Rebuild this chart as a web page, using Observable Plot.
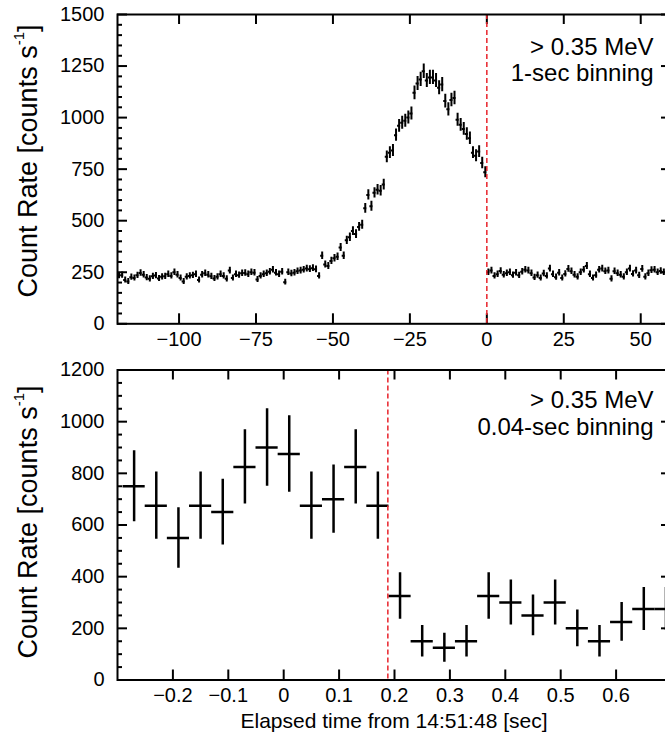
<!DOCTYPE html>
<html>
<head>
<meta charset="utf-8">
<script src="https://cdn.jsdelivr.net/npm/d3@7"></script>
<script src="https://cdn.jsdelivr.net/npm/@observablehq/plot@0.6"></script>
<style>
  html, body { margin: 0; padding: 0; background: #fff; overflow: hidden; }
  #chart { position: relative; width: 665px; height: 742px; overflow: hidden; background: #fff; }
  #chart svg { position: absolute; left: 0; max-width: none !important; overflow: visible; }
</style>
</head>
<body>
<div id="chart"></div>
<script>
// ---------- DATA ----------
// Top panel: 1-sec binning, count rate (counts/s), bins starting at -120 s (pre-event) and at 0 s (post-event)
const topPreStart = -120;
const topPreRates = [
  234,236,212,205,226,222,235,246,238,224,
  218,230,234,220,228,230,240,232,250,238,
  222,205,228,232,235,240,212,238,245,238,
  230,220,228,240,232,218,258,222,240,236,
  245,246,240,250,248,215,232,240,245,252,
  262,248,240,252,202,250,244,248,255,258,
  262,268,265,270,264,232,330,288,280,305,
  318,325,370,330,405,420,450,435,470,480,
  560,625,570,635,650,645,675,810,830,840,
  915,960,975,985,1000,1020,1120,1165,1185,1225,
  1180,1195,1195,1180,1145,1160,1080,1040,1085,1095,
  990,965,945,920,900,830,815,835,780,735
];
const topPostStart = 0;
const topPostRates = [
  250,258,232,240,256,238,245,250,236,248,
  235,252,262,258,245,225,236,222,244,232,
  268,240,226,248,222,242,266,255,238,228,
  250,262,280,240,222,236,262,268,255,258,
  218,255,245,238,228,250,268,242,258,235,
  266,228,245,260,262,250,256,250
];
const topBin = 1;

// Bottom panel: 0.04-sec binning
const bottomStart = -0.29;
const bottomBin = 0.04;
const bottomRates = [750,675,550,675,650,825,900,875,675,700,825,675,325,150,125,150,325,300,250,300,200,150,225,275,275];
const bottomErrors = [137,130,117,130,127,144,150,148,130,132,144,130,90,61,56,61,90,87,79,87,71,61,75,83,83];

// Axes
const topXDomain = [-120, 60];
const topYDomain = [0, 1500];
const topXTicks = [-100, -75, -50, -25, 0, 25, 50];
const topYTicks = [0, 250, 500, 750, 1000, 1250, 1500];
const topYMinor = [50,100,150,200,300,350,400,450,550,600,650,700,800,850,900,950,1050,1100,1150,1200,1300,1350,1400,1450];
const bottomXDomain = [-0.3, 0.7];
const bottomYDomain = [0, 1200];
const bottomXTicks = [-0.2, -0.1, 0, 0.1, 0.2, 0.3, 0.4, 0.5, 0.6];
const bottomYTicks = [0, 200, 400, 600, 800, 1000, 1200];
const bottomYMinor = [50,100,150,250,300,350,450,500,550,650,700,750,850,900,950,1050,1100,1150];

const topDash = 0;
const bottomDash = 0.188;
const topNote = "> 0.35 MeV\n1-sec binning";
const bottomNote = "> 0.35 MeV\n0.04-sec binning";
const xTitle = "Elapsed time from 14:51:48 [sec]";
const yTitleMain = "Count Rate [counts s";
const yTitleSup = "-1";
const yTitleEnd = "]";

// ---------- BUILD ROWS ----------
const topRows = [];
topPreRates.forEach((v, i) => {
  const x0 = topPreStart + i * topBin;
  const e = Math.sqrt(v * topBin) / topBin;
  topRows.push({t: x0 + topBin / 2, x0, x1: x0 + topBin, v, lo: v - e, hi: v + e});
});
topPostRates.forEach((v, i) => {
  const x0 = topPostStart + i * topBin;
  const e = Math.sqrt(v * topBin) / topBin;
  topRows.push({t: x0 + topBin / 2, x0, x1: x0 + topBin, v, lo: v - e, hi: v + e});
});
const bottomRows = bottomRates.map((v, i) => {
  const x0 = bottomStart + i * bottomBin;
  const e = bottomErrors[i];
  return {t: x0 + bottomBin / 2, x0, x1: x0 + bottomBin, v, lo: v - e, hi: v + e};
});

const FONT = '"Liberation Sans", Arial, Helvetica, sans-serif';
const fmt = d => d < 0 ? "\u2212" + String(Math.abs(d)) : String(d);

function panel(o) {
  const H = o.height - o.marginTop - o.marginBottom;
  const W = o.width - o.marginLeft - o.marginRight;
  const tk = {stroke: "black", strokeWidth: 2};
  return Plot.plot({
    width: o.width,
    height: o.height,
    marginLeft: o.marginLeft,
    marginRight: o.marginRight,
    marginTop: o.marginTop,
    marginBottom: o.marginBottom,
    x: {domain: o.xDomain},
    y: {domain: o.yDomain},
    style: {fontFamily: FONT, fontSize: "20px", color: "black", background: "white", overflow: "visible"},
    marks: [
      Plot.ruleX(o.xTicks, {x: d => d, insetTop: H - 10, ...tk}),
      Plot.ruleX(o.xTicks, {x: d => d, insetBottom: H - 10, ...tk}),
      Plot.ruleY(o.yTicks, {y: d => d, insetRight: W - 10, ...tk}),
      Plot.ruleY(o.yTicks, {y: d => d, insetLeft: W - 10, ...tk}),
      Plot.ruleY(o.yMinor, {y: d => d, insetRight: W - 5, ...tk}),
      Plot.ruleY(o.yMinor, {y: d => d, insetLeft: W - 5, ...tk}),
      Plot.ruleX(o.rows, {x: "t", y1: "lo", y2: "hi", stroke: "black", strokeWidth: o.sw, clip: true}),
      Plot.ruleY(o.rows, {y: "v", x1: "x0", x2: "x1", stroke: "black", strokeWidth: o.sw, clip: true}),
      Plot.ruleX([o.dash], {x: d => d, stroke: "#e8232b", strokeWidth: 1.5, strokeDasharray: "5,3"}),
      Plot.frame({stroke: "black", strokeWidth: 2}),
      Plot.axisX({ticks: o.xTicks, tickSize: 0, tickPadding: 8, tickFormat: fmt, label: null, fontSize: 20}),
      Plot.axisY({ticks: o.yTicks, tickSize: 0, tickPadding: 13, tickFormat: fmt, label: null, fontSize: 20}),
      Plot.text([o.note], {text: d => d, frameAnchor: "top-right", textAnchor: "end", lineAnchor: "top",
        dx: -18, dy: o.noteDy, fontSize: 24, lineHeight: 1.12, fill: "black"})
    ]
  });
}

const chart = document.getElementById("chart");

const topSvg = panel({
  width: 672, height: 362, marginLeft: 117, marginRight: 1, marginTop: 14, marginBottom: 38.7,
  xDomain: topXDomain, yDomain: topYDomain, xTicks: topXTicks, yTicks: topYTicks, yMinor: topYMinor,
  rows: topRows, dash: topDash, note: topNote, noteDy: 21, sw: 2
});
topSvg.style.top = "0px";
chart.appendChild(topSvg);

const botSvg = panel({
  width: 672, height: 380, marginLeft: 117, marginRight: 1, marginTop: 7.5, marginBottom: 62.5,
  xDomain: bottomXDomain, yDomain: bottomYDomain, xTicks: bottomXTicks, yTicks: bottomYTicks, yMinor: bottomYMinor,
  rows: bottomRows, dash: bottomDash, note: bottomNote, noteDy: 19, sw: 2.5
});
botSvg.style.top = "362px";
chart.appendChild(botSvg);

// Y titles with superscript, and the X title
function yTitle(svg, cx, cy) {
  const t = d3.select(svg).append("text")
    .attr("transform", `translate(${cx},${cy}) rotate(-90)`)
    .attr("text-anchor", "middle")
    .attr("dominant-baseline", "central")
    .attr("font-family", FONT)
    .attr("font-size", 27)
    .attr("fill", "black");
  t.append("tspan").text(yTitleMain);
  t.append("tspan").attr("font-size", 15).attr("dy", -10).text(yTitleSup);
  t.append("tspan").attr("dy", 10).text(yTitleEnd);
}
yTitle(topSvg, 28, 161);
yTitle(botSvg, 28, 522 - 362);

d3.select(botSvg).append("text")
  .attr("x", 394)
  .attr("y", 728 - 362)
  .attr("text-anchor", "middle")
  .attr("font-family", FONT)
  .attr("font-size", 21)
  .attr("fill", "black")
  .text(xTitle);
</script>
</body>
</html>
